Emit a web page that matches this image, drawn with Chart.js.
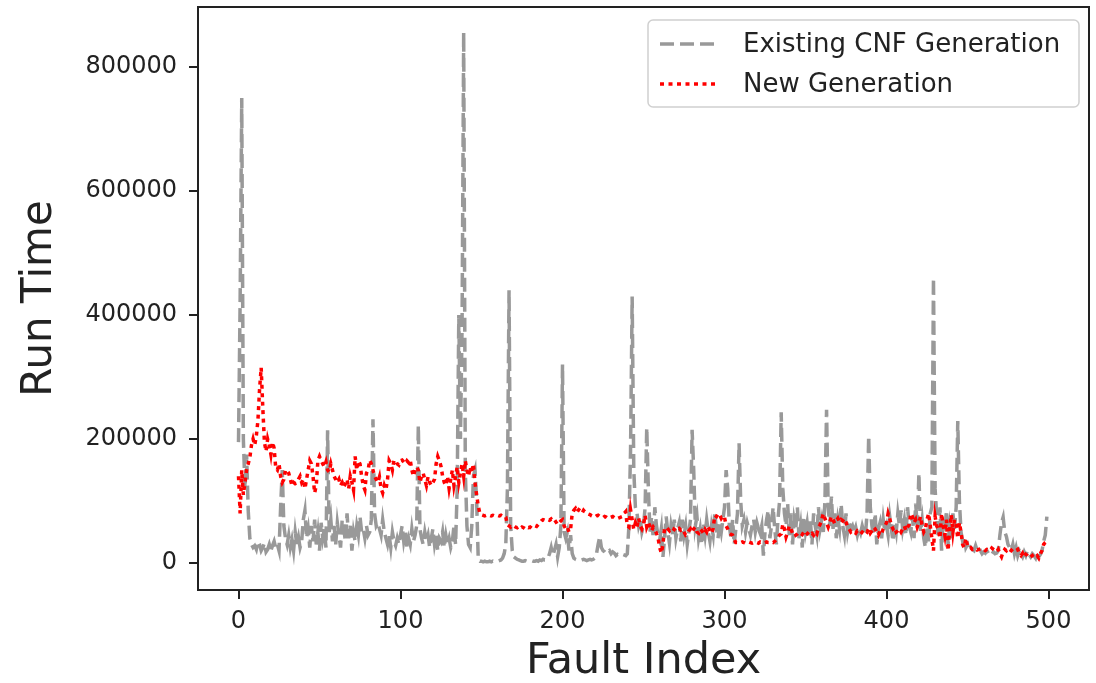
<!DOCTYPE html>
<html>
<head>
<meta charset="utf-8">
<script src="https://cdn.jsdelivr.net/npm/chart.js@4"></script>
<style>
  html, body { margin: 0; padding: 0; background: #fff; }
  #wrap { width: 1096px; height: 683px; }
</style>
</head>
<body>
<div id="wrap"><canvas id="runTimeChart" width="1096" height="683"></canvas></div>
<script>
// run time per fault, in thousands
var existingRunTimeK = [
  195, 420, 750, 200, 120, 175, 85, 40, 30, 25,
  28, 22, 35, 30, 20, 25, 32, 18, 22, 30,
  20, 28, 35, 24, 30, 20, 90, 150, 60, 40,
  30, 45, 25, 38, 20, 50, 30, 42, 25, 35,
  70, 85, 40, 55, 25, 60, 35, 70, 30, 50,
  20, 65, 40, 55, 25, 214, 50, 70, 35, 60,
  30, 65, 45, 25, 70, 55, 35, 80, 40, 60,
  20, 50, 35, 60, 45, 75, 50, 55, 40, 60,
  45, 50, 70, 232, 80, 60, 65, 55, 45, 70,
  50, 40, 30, 45, 25, 50, 35, 28, 40, 30,
  45, 60, 35, 50, 25, 40, 30, 55, 35, 45,
  60, 222, 55, 40, 30, 50, 35, 45, 25, 40,
  55, 30, 45, 20, 40, 35, 50, 25, 45, 30,
  40, 25, 35, 60, 30, 120, 400, 200, 380, 856,
  150, 60, 30, 25, 60, 140, 150, 100, 5, 3,
  3, 2, 3, 2, 2, 3, 2, 3, 2, 3,
  3, 4, 5, 8, 15, 30, 120, 440, 60, 20,
  10, 8, 6, 5, 4, 3, 3, 4, 3, 3,
  3, 4, 3, 3, 4, 3, 5, 4, 6, 5,
  5, 8, 15, 25, 12, 20, 30, 10, 25, 60,
  320, 50, 40, 50, 20, 45, 15, 8, 6, 5,
  5, 4, 5, 6, 5, 4, 5, 6, 5, 6,
  8, 15, 30, 43, 25, 20, 18, 15, 18, 20,
  15, 18, 16, 12, 14, 13, 12, 14, 13, 12,
  15, 60, 180, 430, 150, 90, 80, 60, 70, 50,
  60, 90, 218, 120, 50, 75, 40, 90, 60, 45,
  37, 55, 10, 40, 75, 50, 32, 60, 45, 70,
  40, 55, 65, 35, 70, 45, 60, 30, 50, 70,
  215, 150, 60, 75, 40, 55, 30, 65, 45, 70,
  50, 35, 60, 45, 80, 55, 40, 65, 50, 70,
  90, 150, 120, 60, 40, 70, 30, 55, 80, 193,
  100, 60, 70, 50, 65, 55, 45, 60, 70, 50,
  65, 55, 48, 60, 12, 50, 70, 85, 40, 60,
  90, 55, 30, 70, 100, 243, 120, 80, 60, 95,
  45, 80, 30, 70, 55, 90, 40, 60, 25, 75,
  50, 65, 40, 70, 30, 80, 60, 45, 90, 55,
  70, 50, 100, 247, 90, 60, 107, 55, 80, 40,
  70, 55, 95, 60, 45, 80, 50, 65, 55, 60,
  50, 58, 45, 55, 48, 60, 50, 45, 80, 205,
  90, 60, 45, 80, 30, 55, 65, 40, 70, 50,
  60, 45, 75, 55, 35, 65, 50, 80, 60, 85,
  55, 70, 45, 90, 60, 50, 75, 40, 96, 60,
  145, 50, 70, 40, 25, 60, 35, 80, 90, 460,
  120, 75, 40, 90, 20, 70, 50, 85, 30, 60,
  40, 80, 55, 90, 229, 100, 50, 35, 43, 25,
  30, 20, 25, 22, 20, 28, 20, 18, 20, 15,
  18, 16, 20, 15, 17, 14, 18, 15, 16, 20,
  45, 65, 74, 50, 43, 30, 25, 20, 30, 15,
  25, 12, 20, 15, 10, 18, 12, 20, 14, 10,
  15, 12, 8, 18, 10, 14, 20, 35, 45, 75
];

var newRunTimeK = [
  140, 80, 150, 110, 130, 150, 160, 170, 190, 200,
  190, 205, 230, 280, 315, 250, 195, 180, 200, 190,
  175, 195, 185, 153, 150, 160, 140, 130, 135, 150,
  150, 145, 135, 125, 130, 128, 129, 135, 140, 130,
  135, 120, 135, 150, 165, 160, 140, 113, 125, 165,
  172, 165, 160, 155, 163, 150, 147, 160, 150, 140,
  135, 130, 135, 125, 130, 123, 128, 135, 120, 140,
  130, 118, 172, 150, 165, 160, 140, 125, 118, 145,
  150, 166, 160, 150, 140, 135, 130, 139, 120, 113,
  125, 118, 135, 165, 160, 150, 166, 165, 160, 158,
  165, 166, 163, 160, 165, 162, 166, 150, 140, 150,
  155, 150, 130, 140, 145, 135, 125, 139, 130, 125,
  130, 135, 160, 172, 165, 156, 140, 130, 125, 140,
  120, 135, 150, 125, 140, 155, 130, 145, 160, 140,
  165, 150, 140, 155, 145, 160, 129, 110, 92, 80,
  78, 77, 76, 77, 78, 77, 76, 77, 76, 77,
  77, 76, 77, 75, 76, 74, 62, 60, 58, 61,
  60, 58, 57, 59, 56, 58, 57, 55, 58, 57,
  58, 56, 58, 60, 59, 62, 65, 68, 70, 69,
  68, 70, 69, 71, 68, 70, 66, 62, 65, 68,
  70, 60, 55, 58, 50, 55, 80, 85, 88, 82,
  86, 84, 80, 85, 82, 80, 79, 78, 76, 75,
  74, 76, 77, 75, 74, 73, 75, 74, 72, 73,
  74, 75, 73, 74, 72, 73, 74, 75, 80, 83,
  60, 58, 86, 70, 54, 65, 58, 72, 60, 55,
  62, 77, 58, 65, 60, 52, 58, 54, 48, 40,
  25, 16, 30, 56, 58, 55, 52, 57, 56, 54,
  58, 55, 56, 53, 55, 50, 45, 47, 52, 55,
  50, 55, 58, 50, 48, 55, 52, 48, 54, 50,
  58, 52, 48, 55, 77, 75, 80, 78, 72, 76,
  74, 60, 55, 48, 46, 45, 38, 33, 33, 34,
  33, 34, 33, 32, 33, 34, 33, 32, 33, 34,
  33, 32, 34, 33, 32, 33, 34, 33, 33, 34,
  33, 35, 38, 42, 45, 47, 63, 55, 42, 50,
  60, 55, 48, 50, 45, 47, 50, 48, 46, 50,
  45, 47, 50, 46, 48, 45, 50, 47, 58, 62,
  70, 80, 72, 65, 58, 66, 75, 70, 64, 68,
  72, 66, 70, 68, 72, 66, 58, 55, 50, 52,
  50, 48, 52, 50, 47, 50, 48, 52, 50, 55,
  48, 52, 58, 55, 50, 45, 52, 48, 55, 60,
  65, 80, 72, 60, 55, 58, 50, 52, 55, 50,
  55, 60, 52, 58, 62, 80, 75, 65, 70, 58,
  65, 75, 60, 50, 55, 70, 80, 60, 40, 20,
  75, 60, 55, 40, 80, 60, 45, 70, 20, 55,
  78, 50, 70, 60, 40, 65, 50, 30, 25, 40,
  28, 24, 25, 22, 23, 24, 21, 22, 23, 21,
  22, 20, 22, 21, 20, 24, 22, 20, 18, 22,
  15, 10, 18, 22, 20, 24, 22, 20, 23, 22,
  20, 22, 15, 12, 16, 10, 14, 12, 8, 10,
  12, 8, 10, 12, 8, 15, 20, 30, 33, 35
];

var seriesNames = ['Existing CNF Generation', 'New Generation'];
var xTickValues = [0, 100, 200, 300, 400, 500];
var yTickValues = [0, 200000, 400000, 600000, 800000];

var font = "'DejaVu Sans', sans-serif";

function toPoints(arr) {
  return arr.map(function(v, i) { return { x: i, y: v * 1000 }; });
}

// no extra room for half tick labels, the plot box is fixed
function noPad(s) {
  s.paddingTop = 0;
  s.paddingBottom = 0;
  s.paddingLeft = 0;
  s.paddingRight = 0;
}

// full box round the plot, like matplotlib spines
var frame = {
  id: 'frame',
  afterDatasetsDraw: function(chart) {
    var a = chart.chartArea, ctx = chart.ctx;
    ctx.save();
    ctx.strokeStyle = '#222';
    ctx.lineWidth = 2;
    ctx.strokeRect(a.left, a.top, a.right - a.left, a.bottom - a.top);
    ctx.restore();
  }
};

// legend box in the upper right corner
var boxLegend = {
  id: 'boxLegend',
  afterDraw: function(chart) {
    var a = chart.chartArea, ctx = chart.ctx;
    var w = 431, h = 87;
    var x0 = a.right - 10 - w, y0 = a.top + 13;
    ctx.save();
    ctx.beginPath();
    ctx.roundRect(x0, y0, w, h, 5);
    ctx.fillStyle = 'rgba(255,255,255,0.85)';
    ctx.fill();
    ctx.strokeStyle = '#d0d0d0';
    ctx.lineWidth = 1.5;
    ctx.stroke();
    chart.data.datasets.forEach(function(ds, i) {
      var y = y0 + 24 + i * 40;
      ctx.beginPath();
      ctx.setLineDash(ds.borderDash);
      ctx.strokeStyle = ds.borderColor;
      ctx.lineWidth = ds.borderWidth;
      ctx.moveTo(x0 + 12, y);
      ctx.lineTo(x0 + 68, y);
      ctx.stroke();
      ctx.setLineDash([]);
      ctx.fillStyle = '#222';
      ctx.font = '26px ' + font;
      ctx.textBaseline = 'middle';
      ctx.fillText(ds.label, x0 + 95, y + 1);
    });
    ctx.restore();
  }
};

var ctx = document.getElementById('runTimeChart');
var myChart = new Chart(ctx, {
  type: 'line',
  data: {
    datasets: [{
      label: seriesNames[0],
      data: toPoints(existingRunTimeK),
      borderColor: '#999999',
      borderWidth: 3.5,
      borderDash: [14, 6],
      pointRadius: 0,
      tension: 0,
      order: 2
    }, {
      label: seriesNames[1],
      data: toPoints(newRunTimeK),
      borderColor: '#ff0000',
      borderWidth: 3.5,
      borderDash: [4, 4.5],
      pointRadius: 0,
      tension: 0,
      order: 1
    }]
  },
  options: {
    responsive: false,
    animation: false,
    layout: { padding: { left: 0, top: 7, right: 7, bottom: 0 } },
    plugins: {
      legend: { display: false },
      tooltip: { enabled: false }
    },
    scales: {
      x: {
        type: 'linear',
        min: -25,
        max: 525,
        afterBuildTicks: function(s) {
          s.ticks = xTickValues.map(function(v) { return { value: v }; });
        },
        afterFit: function(s) { s.height = 93; noPad(s); },
        grid: { drawOnChartArea: false, drawTicks: true, tickLength: 9, color: '#222', lineWidth: 2 },
        border: { display: false },
        ticks: { color: '#222', padding: 8, maxRotation: 0, font: { family: font, size: 24 } },
        title: {
          display: true,
          text: 'Fault Index',
          color: '#222',
          font: { family: font, size: 43, lineHeight: 1 },
          padding: { top: 0, bottom: 0 }
        }
      },
      y: {
        min: -43500,
        max: 896800,
        afterBuildTicks: function(s) {
          s.ticks = yTickValues.map(function(v) { return { value: v }; });
        },
        afterFit: function(s) { s.width = 198; noPad(s); },
        grid: { drawOnChartArea: false, drawTicks: true, tickLength: 9, color: '#222', lineWidth: 2 },
        border: { display: false },
        ticks: {
          color: '#222',
          padding: 12,
          font: { family: font, size: 24 },
          callback: function(v) { return String(v); }
        },
        title: {
          display: true,
          text: 'Run Time',
          color: '#222',
          font: { family: font, size: 42, lineHeight: 1.2 },
          padding: { top: 15, bottom: 0 }
        }
      }
    }
  },
  plugins: [frame, boxLegend]
});
</script>
</body>
</html>
